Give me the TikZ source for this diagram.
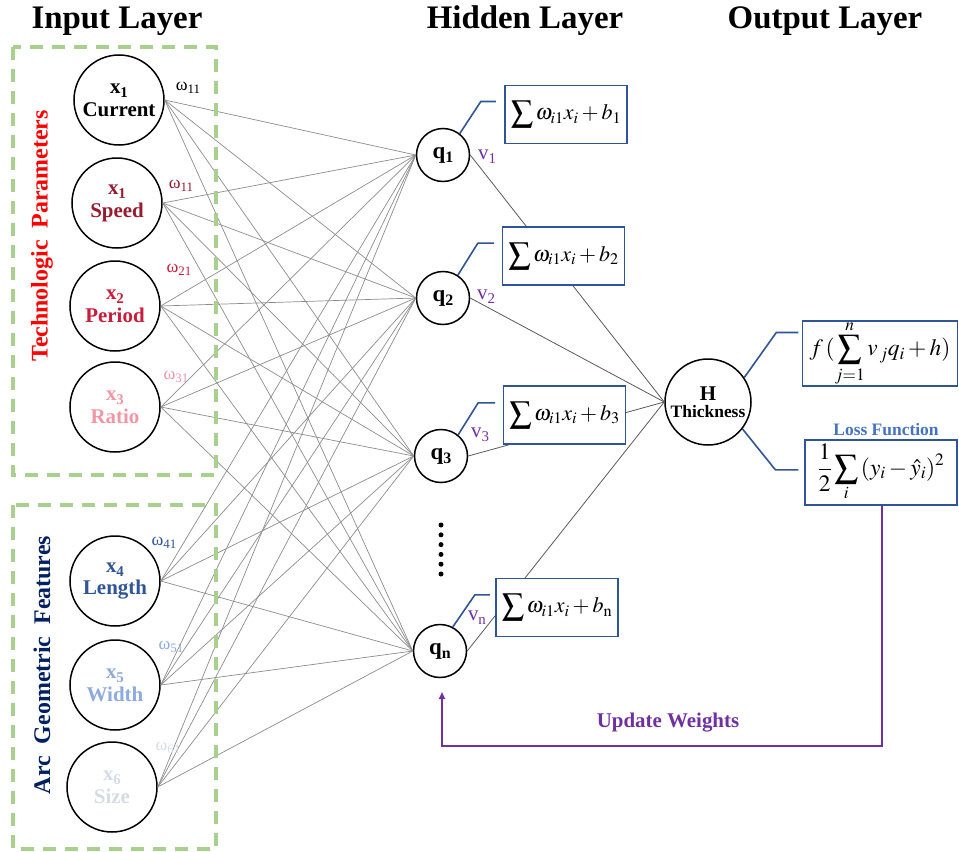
\documentclass[tikz,border=0pt]{standalone}
\usepackage{mathptmx}
\usepackage[no-math]{fontspec}
\setmainfont{Liberation Serif}
\usetikzlibrary{arrows.meta,calc}
\definecolor{cblue}{RGB}{47,85,151}
\definecolor{cgreen}{RGB}{169,209,142}
\definecolor{cpurple}{RGB}{112,48,160}
\definecolor{cspeed}{RGB}{150,28,48}
\definecolor{cperiod}{RGB}{200,30,60}
\definecolor{cratio}{RGB}{240,150,165}
\definecolor{clength}{RGB}{47,85,151}
\definecolor{cwidth}{RGB}{143,170,220}
\definecolor{csize}{RGB}{214,220,229}
\definecolor{cnavy}{RGB}{0,32,96}
\definecolor{lossblue}{RGB}{68,114,196}
\newcommand{\sbx}[3]{#1\raisebox{-4bp}{\fontsize{#3}{#3}\selectfont #2}}
\newcommand{\wl}[1]{{\fontsize{18}{18}\selectfont ω}\raisebox{-3bp}{\fontsize{13}{13}\selectfont #1}}
\newcommand{\vl}[1]{{\fontsize{21}{21}\selectfont v}\raisebox{-4bp}{\fontsize{15}{15}\selectfont #1}}
\tikzset{
  innode/.style={circle, draw, line width=1.5bp, minimum size=90bp, inner sep=0pt, align=center,
    font=\fontsize{21}{23}\selectfont\bfseries},
  hidnode/.style={circle, draw, line width=1.5bp, minimum size=53bp, inner sep=0pt,
    font=\fontsize{23}{23}\selectfont\bfseries},
  outnode/.style={circle, draw, line width=1.5bp, minimum size=86bp, inner sep=0pt, align=center,
    font=\fontsize{21}{20}\selectfont\bfseries},
  edge/.style={draw=gray!90, line width=0.7bp},
  hedge/.style={draw=black!65, line width=0.8bp},
  fbox/.style={draw=cblue, line width=1.5bp, fill=white, inner sep=0pt, minimum width=122bp, minimum height=58bp,
    font=\fontsize{22}{26}\selectfont},
  callout/.style={draw=cblue, line width=1.6bp},
  grp/.style={draw=cgreen, line width=4bp, dash pattern=on 13bp off 9bp},
  title/.style={font=\fontsize{33}{34}\selectfont\bfseries},
  wlab/.style={inner sep=0pt},
  vlab/.style={inner sep=0pt, text=cpurple},
  ldot/.style={circle, fill=black, inner sep=0pt, minimum size=5bp}
}
\begin{document}
\begin{tikzpicture}[x=1bp,y=-1bp]
\useasboundingbox (0,0) rectangle (959,852);
% titles
\node[title] (t1) at (117,21) {Input Layer};
\node[title] (t2) at (525,21) {Hidden Layer};
\node[title] (t3) at (825,21) {Output Layer};
% input nodes
\node[innode] (in1) at (119,100) {\sbx{x}{1}{15}\\Current};
\node[innode, text=cspeed] (in2) at (117,203) {\sbx{x}{1}{15}\\Speed};
\node[innode, text=cperiod] (in3) at (115,306) {\sbx{x}{2}{15}\\Period};
\node[innode, text=cratio] (in4) at (115,407) {\sbx{x}{3}{15}\\Ratio};
\node[innode, text=clength] (in5) at (115,581) {\sbx{x}{4}{15}\\Length};
\node[innode, text=cwidth] (in6) at (115,685) {\sbx{x}{5}{15}\\Width};
\node[innode, text=csize] (in7) at (112,787) {\sbx{x}{6}{15}\\Size};
% hidden nodes
\node[hidnode] (q1) at (443,155) {\sbx{q}{1}{16}};
\node[hidnode] (q2) at (443,298) {\sbx{q}{2}{16}};
\node[hidnode] (q3) at (441,456) {\sbx{q}{3}{16}};
\node[hidnode] (qn) at (440,651) {\sbx{q}{n}{16}};
% output node
\node[outnode] (H) at (708,402) {H\\[-3bp]{\fontsize{17.5}{18}\selectfont Thickness}};
% input-hidden edges
\foreach \i in {in1,in2,in3,in4,in5,in6,in7}
  \foreach \h in {q1,q2,q3,qn}
    \draw[edge] (\i.east) -- (\h.west);
% hidden-output edges
\foreach \h in {q1,q2,q3,qn}
  \draw[hedge] (\h.east) -- (H.west);
% group frames
\draw[grp] (13,47) rectangle (216,475);
\draw[grp] (13,505) rectangle (216,849);
\node[rotate=90, text=red, font=\fontsize{24}{24}\selectfont\bfseries] (g1) at (42,236) {Technologic\hspace{0.5em}Parameters};
\node[rotate=90, text=cnavy, font=\fontsize{24}{24}\selectfont\bfseries] (g2) at (42,665) {Arc\hspace{0.5em}Geometric\hspace{0.5em}Features};
% weight labels
\node[wlab] (w1) at (188,88) {\wl{11}};
\node[wlab, text=cspeed] (w2) at (181,186) {\wl{11}};
\node[wlab, text=cperiod] (w3) at (179,270) {\wl{21}};
\node[wlab, text=cratio] (w4) at (176,377) {\wl{31}};
\node[wlab, text=clength] (w5) at (164,543) {\wl{41}};
\node[wlab, text=cwidth] (w6) at (171,647) {\wl{51}};
\node[wlab, text=csize] (w7) at (168,748) {\wl{61}};
% formula boxes
\node[fbox] (b1) at (566,114.5) {$\displaystyle\sum \omega_{i1}x_i + b_1$};
\node[fbox] (b2) at (563.5,256) {$\displaystyle\sum \omega_{i1}x_i + b_2$};
\node[fbox] (b3) at (564.5,415) {$\displaystyle\sum \omega_{i1}x_i + b_3$};
\node[fbox] (bn) at (557,607.5) {$\displaystyle\sum \omega_{i1}x_i + b_{\mathrm{n}}$};
\node[fbox, minimum width=155bp, minimum height=65bp, font=\fontsize{23.5}{26}\selectfont] (bf) at (880,353.5) {$\displaystyle f\,(\sum_{j=1}^{n} v_{\,j}q_i + h)$};
\node[fbox, minimum width=152bp, minimum height=65bp, font=\fontsize{23.5}{26}\selectfont] (bl) at (881,472.5) {$\displaystyle \frac{1}{2}\sum_{i}\,(y_i - \hat{y}_i)^2$};
\node[text=lossblue, font=\fontsize{17.5}{18}\selectfont\bfseries] (lf) at (886,430) {Loss Function};
% callouts
\draw[callout] (q1.52) -- ++(21,-32) -- ++(15,0);
\draw[callout] (q2.57) -- ++(20,-32) -- ++(16,0);
\draw[callout] (q3.51) -- ++(20,-32) -- ++(17,0);
\draw[callout] (qn.62) -- ++(22,-32) -- ++(15,0);
\draw[callout] (H.34) -- ++(32,-45) -- ++(22,0);
\draw[callout] (H.-38) -- ++(33,41) -- ++(23,0);
% v labels
\node[vlab] (v1) at (487,157) {\vl{1}};
\node[vlab] (v2) at (486,297) {\vl{2}};
\node[vlab] (v3) at (480,435) {\vl{3}};
\node[vlab] (vn) at (477,618) {\vl{n}};
% dots
\foreach \k in {0,...,5}
  \node[ldot] (d\k) at (441,525+9.8*\k) {};
% update weights feedback
\coordinate (fb1) at (882,746);
\coordinate (fb2) at (442,746);
\coordinate (fbend) at (442,692);
\draw[draw=cpurple, line width=1.8bp, -{Triangle[length=7bp,width=6bp]}] (bl.south -| fb1) -- (fb1) -- (fb2) -- (fbend);
\node[text=cpurple, font=\fontsize{21}{21}\selectfont\bfseries] (uw) at (668,723) {Update Weights};
\end{tikzpicture}
\end{document}
